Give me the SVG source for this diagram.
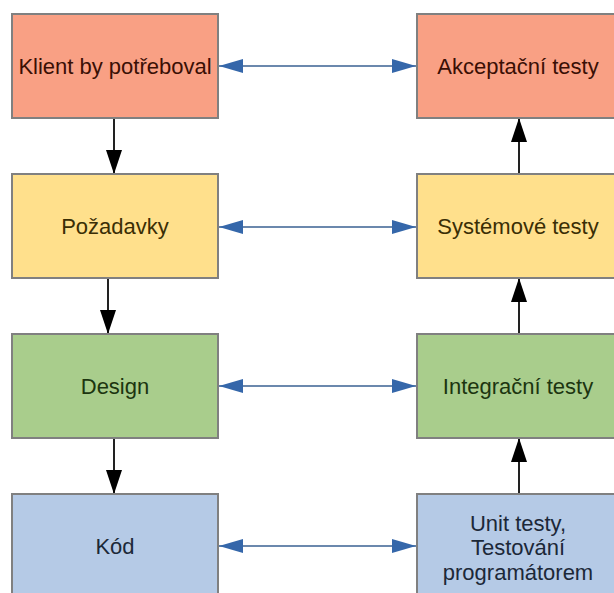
<svg xmlns="http://www.w3.org/2000/svg" width="614" height="593" viewBox="0 0 614 593">
<style>
.box{stroke:#808080;stroke-width:2}
.red{fill:#f9a084}.yel{fill:#ffe08c}.grn{fill:#a9cd8c}.blu{fill:#b5cae6}
text{font-family:"Liberation Sans",Arial,sans-serif;font-size:22px;text-anchor:middle}
.tr{fill:#3a0f05}.ty{fill:#3a2e05}.tg{fill:#1c3510}.tb{fill:#1c2838}
.v{stroke:#222;stroke-width:2;fill:none}
.h{stroke:#6b88ad;stroke-width:2;fill:none}
</style>
<defs>
<marker id="ab" markerUnits="userSpaceOnUse" markerWidth="24" markerHeight="16" refX="24" refY="8" orient="auto">
<path d="M0,0 L24,8 L0,16 Z" fill="#000"/>
</marker>
<marker id="bb" markerUnits="userSpaceOnUse" markerWidth="24" markerHeight="16" refX="24" refY="8" orient="auto-start-reverse">
<path d="M0,1 L24,8 L0,15 Z" fill="#3567aa"/>
</marker>
</defs>
<rect width="614" height="593" fill="#fff"/>
<g id="connectors">
<line class="v" x1="114" y1="118" x2="114" y2="174" marker-end="url(#ab)"/>
<line class="v" x1="108" y1="278" x2="108" y2="334" marker-end="url(#ab)"/>
<line class="v" x1="114" y1="438" x2="114" y2="494" marker-end="url(#ab)"/>
<line class="v" x1="519" y1="174" x2="519" y2="118" marker-end="url(#ab)"/>
<line class="v" x1="519" y1="334" x2="519" y2="278" marker-end="url(#ab)"/>
<line class="v" x1="519" y1="494" x2="519" y2="438" marker-end="url(#ab)"/>
<line class="h" x1="219" y1="66" x2="416" y2="66" marker-start="url(#bb)" marker-end="url(#bb)"/>
<line class="h" x1="219" y1="227" x2="416" y2="227" marker-start="url(#bb)" marker-end="url(#bb)"/>
<line class="h" x1="219" y1="386" x2="416" y2="386" marker-start="url(#bb)" marker-end="url(#bb)"/>
<line class="h" x1="219" y1="546" x2="416" y2="546" marker-start="url(#bb)" marker-end="url(#bb)"/>
</g>
<g id="klient"><rect class="box red" x="12" y="14" width="206" height="104"/><text class="tr" x="115" y="74">Klient by potřeboval</text></g>
<g id="akceptacni"><rect class="box red" x="417" y="14" width="206" height="104"/><text class="tr" x="518" y="74">Akceptační testy</text></g>
<g id="pozadavky"><rect class="box yel" x="12" y="174" width="206" height="104"/><text class="ty" x="115" y="234">Požadavky</text></g>
<g id="systemove"><rect class="box yel" x="417" y="174" width="206" height="104"/><text class="ty" x="518" y="234">Systémové testy</text></g>
<g id="design"><rect class="box grn" x="12" y="334" width="206" height="104"/><text class="tg" x="115" y="394">Design</text></g>
<g id="integracni"><rect class="box grn" x="417" y="334" width="206" height="104"/><text class="tg" x="518" y="394">Integrační testy</text></g>
<g id="kod"><rect class="box blu" x="12" y="494" width="206" height="104"/><text class="tb" x="115" y="554">Kód</text></g>
<g id="unit"><rect class="box blu" x="417" y="494" width="206" height="104"/><text class="tb" x="518"><tspan x="518" y="531">Unit testy,</tspan><tspan x="518" y="555">Testování</tspan><tspan x="518" y="580">programátorem</tspan></text></g>
</svg>
